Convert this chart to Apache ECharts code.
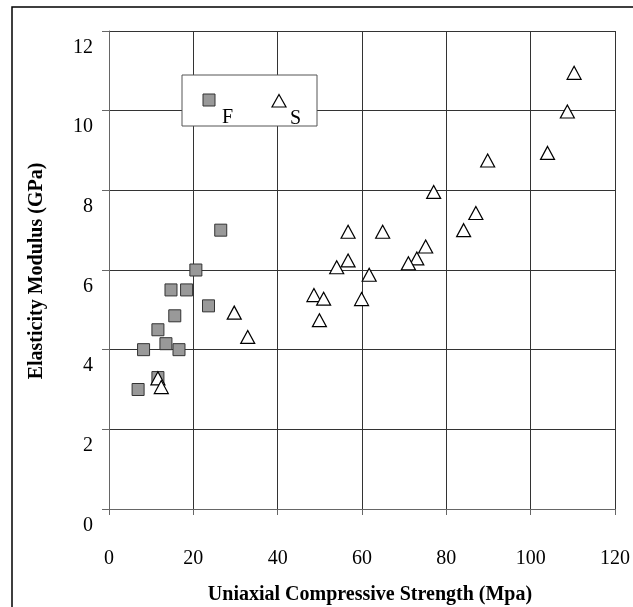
<!DOCTYPE html>
<html>
<head>
<meta charset="utf-8">
<script src="https://cdn.jsdelivr.net/npm/echarts@6/dist/echarts.min.js"></script>
<style>
  html, body { margin: 0; padding: 0; background: #fff; }
  #chart { width: 633px; height: 607px; }
</style>
</head>
<body>
<div id="chart"></div>
<script>
// F and S samples: UCS (Mpa) vs elasticity modulus (GPa)
var fUcs = [26.5, 20.6, 14.7, 18.4, 23.6, 15.6, 11.6, 13.5, 8.2, 16.6, 11.6, 6.9];
var fMod = [7.0, 6.0, 5.5, 5.5, 5.1, 4.85, 4.5, 4.15, 4.0, 4.0, 3.3, 3.0];

var sUcs = [29.7, 32.9, 11.6, 12.4, 77.0, 87.0, 56.7, 64.9, 84.1, 75.1, 73.0, 71.0,
            56.7, 54.0, 61.7, 48.6, 50.9, 59.9, 49.9, 110.3, 108.7, 104.0, 89.8];
var sMod = [4.93, 4.32, 3.28, 3.06, 7.96, 7.43, 6.96, 6.96, 7.0, 6.59, 6.29, 6.17,
            6.24, 6.07, 5.88, 5.37, 5.28, 5.27, 4.74, 10.95, 9.98, 8.94, 8.75];

var xTicks = [0, 20, 40, 60, 80, 100, 120];
var yTicks = [0, 2, 4, 6, 8, 10, 12];

function pairs(xs, ys) {
  var out = [];
  for (var i = 0; i < xs.length; i++) out.push([xs[i], ys[i]]);
  return out;
}

var font = '"Liberation Serif", "Times New Roman", serif';
var gridColor = '#333';

var myChart = echarts.init(document.getElementById('chart'));
var option = {
  animation: false,
  grid: { left: 109, right: 13, top: 31, bottom: 98 },
  xAxis: {
    type: 'value',
    min: xTicks[0],
    max: xTicks[xTicks.length - 1],
    interval: 20,
    axisLine: { show: true, lineStyle: { color: '#666', width: 1 } },
    axisTick: { show: true, inside: false, length: 6, lineStyle: { color: '#666' } },
    axisLabel: { margin: 40, fontFamily: font, fontSize: 20, color: '#000' },
    splitLine: { show: true, lineStyle: { color: gridColor, width: 1 } }
  },
  yAxis: {
    type: 'value',
    min: yTicks[0],
    max: yTicks[yTicks.length - 1],
    interval: 2,
    axisLine: { show: true, lineStyle: { color: '#666', width: 1 } },
    axisTick: { show: true, inside: false, length: 7, lineStyle: { color: '#666' } },
    axisLabel: { margin: 16, fontFamily: font, fontSize: 20, color: '#000',
                 verticalAlign: 'top', lineHeight: 33 },
    splitLine: { show: true, lineStyle: { color: gridColor, width: 1 } }
  },
  series: [
    {
      name: 'F',
      type: 'scatter',
      symbol: 'rect',
      symbolSize: 12,
      itemStyle: { color: '#999', borderColor: '#333', borderWidth: 1, opacity: 1 },
      data: pairs(fUcs, fMod)
    },
    {
      name: 'S',
      type: 'scatter',
      symbol: 'triangle',
      symbolSize: [14, 13],
      itemStyle: { color: '#fff', borderColor: '#000', borderWidth: 1.2, opacity: 1 },
      data: pairs(sUcs, sMod)
    }
  ],
  graphic: [
    { type: 'rect', shape: { x: 12, y: 7, width: 640, height: 620 },
      style: { fill: 'none', stroke: '#000', lineWidth: 1.5 }, silent: true },
    { type: 'text', x: 37, y: 271, rotation: Math.PI / 2,
      style: { text: 'Elasticity Modulus (GPa)', font: 'bold 20px ' + font, fill: '#000',
               align: 'center', verticalAlign: 'middle' } },
    { type: 'text', x: 370, y: 595,
      style: { text: 'Uniaxial Compressive Strength (Mpa)', font: 'bold 20px ' + font, fill: '#000',
               align: 'center', verticalAlign: 'middle' } },
    // legend box
    { type: 'rect', shape: { x: 182, y: 75, width: 135, height: 51 },
      style: { fill: '#fff', stroke: '#555', lineWidth: 1 }, z: 10 },
    { type: 'rect', shape: { x: 203, y: 94, width: 12, height: 12 },
      style: { fill: '#999', stroke: '#333', lineWidth: 1 }, z: 11 },
    { type: 'text', x: 222, y: 118,
      style: { text: 'F', font: '20px ' + font, fill: '#000', verticalAlign: 'middle' }, z: 11 },
    { type: 'polygon', shape: { points: [[279, 94.5], [286, 107], [272, 107]] },
      style: { fill: '#fff', stroke: '#000', lineWidth: 1.2 }, z: 11 },
    { type: 'text', x: 290, y: 119,
      style: { text: 'S', font: '20px ' + font, fill: '#000', verticalAlign: 'middle' }, z: 11 }
  ]
};
myChart.setOption(option);
</script>
</body>
</html>
